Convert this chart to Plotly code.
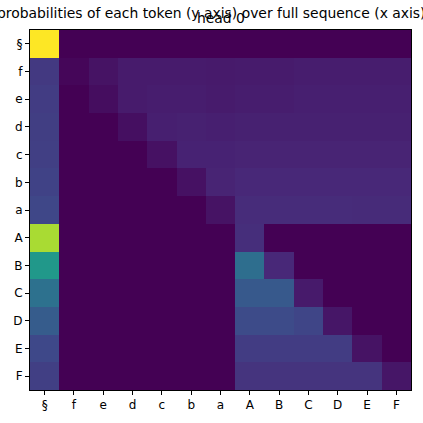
import plotly.graph_objects as go

tokens = ['§', 'f', 'e', 'd', 'c', 'b', 'a', 'A', 'B', 'C', 'D', 'E', 'F']

# one row per query token (y axis), one column per key token (x axis)
row_sect = [1.0, 0, 0, 0, 0, 0, 0, 0, 0, 0, 0, 0, 0]
row_f = [0.17, 0.015, 0.05, 0.075, 0.075, 0.075, 0.07, 0.075, 0.075, 0.08, 0.08, 0.08, 0.08]
row_e = [0.18, 0.0, 0.035, 0.075, 0.08, 0.08, 0.075, 0.08, 0.08, 0.085, 0.085, 0.085, 0.085]
row_d = [0.185, 0.0, 0.0, 0.04, 0.085, 0.09, 0.085, 0.09, 0.09, 0.09, 0.09, 0.09, 0.09]
row_c = [0.19, 0.0, 0.0, 0.0, 0.045, 0.095, 0.095, 0.1, 0.1, 0.1, 0.1, 0.1, 0.1]
row_b = [0.2, 0.0, 0.0, 0.0, 0.0, 0.045, 0.1, 0.11, 0.11, 0.11, 0.11, 0.11, 0.11]
row_a = [0.215, 0.0, 0.0, 0.0, 0.0, 0.0, 0.05, 0.125, 0.125, 0.125, 0.125, 0.12, 0.12]
row_A = [0.87, 0, 0, 0, 0, 0, 0, 0.13, 0, 0, 0, 0, 0]
row_B = [0.53, 0, 0, 0, 0, 0, 0, 0.36, 0.11, 0, 0, 0, 0]
row_C = [0.37, 0, 0, 0, 0, 0, 0, 0.28, 0.28, 0.07, 0, 0, 0]
row_D = [0.29, 0, 0, 0, 0, 0, 0, 0.23, 0.23, 0.21, 0.06, 0, 0]
row_E = [0.22, 0, 0, 0, 0, 0, 0, 0.18, 0.18, 0.18, 0.18, 0.05, 0]
row_F = [0.19, 0, 0, 0, 0, 0, 0, 0.15, 0.15, 0.15, 0.15, 0.15, 0.06]

z = [row_sect, row_f, row_e, row_d, row_c, row_b, row_a,
     row_A, row_B, row_C, row_D, row_E, row_F]

fig = go.Figure()
fig.add_trace(go.Heatmap(z=z, x=tokens, y=tokens, colorscale='Viridis',
                         zmin=0, zmax=1, showscale=False))

axis_style = dict(showline=True, mirror=True, linecolor='black', linewidth=1,
                  ticks='outside', ticklen=4, tickcolor='black',
                  tickfont=dict(family='DejaVu Sans', size=12, color='black'),
                  showgrid=False, zeroline=False, type='category', automargin=False)
fig.update_xaxes(**axis_style)
fig.update_yaxes(**axis_style, autorange='reversed')

# suptitle is wider than the figure, so it runs off both edges like the original
fig.add_annotation(text='probabilities of each token (y axis) over full sequence (x axis)',
                   xref='paper', yref='paper', x=0.476, y=1.0, yshift=17,
                   xanchor='center', yanchor='middle',
                   showarrow=False, font=dict(size=13.9, color='black'))
fig.add_annotation(text='head 0', xref='paper', yref='paper', x=0.5, y=1.0, yshift=12,
                   xanchor='center', yanchor='middle',
                   showarrow=False, font=dict(size=13.9, color='black'))

fig.update_layout(width=423, height=423,
                  margin=dict(l=30, r=12, t=30, b=33),
                  font=dict(family='DejaVu Sans', size=12, color='black'),
                  plot_bgcolor='white', paper_bgcolor='white')

# drop the default page margin so the figure sits at the window corner
fig.write_html('out.html', config={'displayModeBar': False},
               post_script="document.body.style.margin='0';document.body.style.overflow='hidden';")
